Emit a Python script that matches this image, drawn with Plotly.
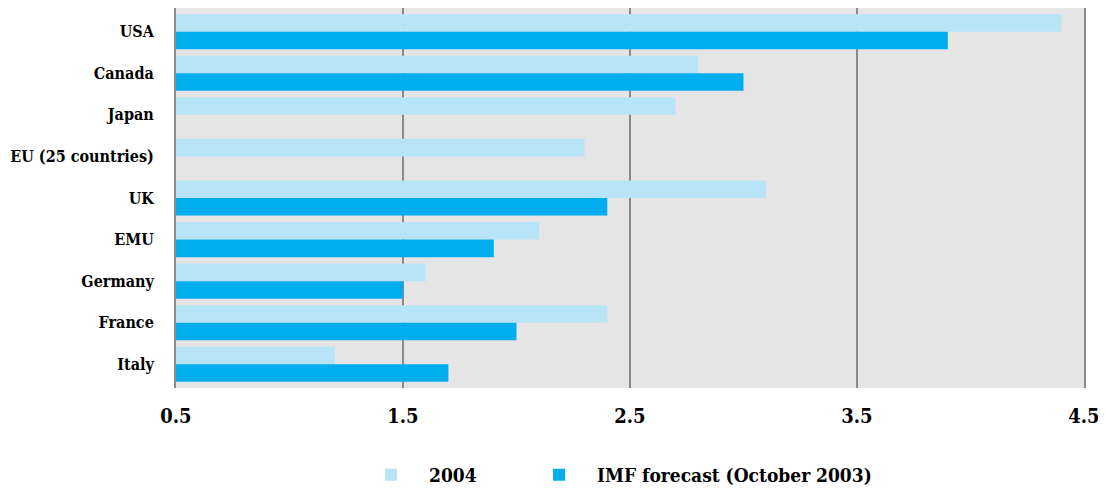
import plotly.graph_objects as go

categories = ["USA", "Canada", "Japan", "EU (25 countries)", "UK", "EMU", "Germany", "France", "Italy"]
values_2004 = [4.4, 2.8, 2.7, 2.3, 3.1, 2.1, 1.6, 2.4, 1.2]
values_imf = [3.9, 3.0, None, None, 2.4, 1.9, 1.5, 2.0, 1.7]
tick_vals = [0.5, 1.5, 2.5, 3.5, 4.5]
tick_text = ["0.5", "1.5", "2.5", "3.5", "4.5"]

FONT = "DejaVu Serif Condensed"
base = 0.5

fig = go.Figure()
fig.add_trace(go.Bar(
    y=categories, x=[None if v is None else v - base for v in values_2004], base=base,
    orientation="h", name="2004", marker=dict(color="#b8e4f8", line=dict(width=0)),
    legend="legend",
))
fig.add_trace(go.Bar(
    y=categories, x=[None if v is None else v - base for v in values_imf], base=base,
    orientation="h", name="IMF forecast (October 2003)", marker=dict(color="#00aeef", line=dict(width=0)),
    legend="legend2",
))

legend_font = dict(family=FONT, size=19, color="black", weight="bold")
fig.update_layout(
    width=1106, height=489,
    margin=dict(l=168, r=30, t=0, b=109),
    paper_bgcolor="white", plot_bgcolor="#e5e5e5",
    barmode="group", bargap=0.155, bargroupgap=0.0,
    font=dict(family=FONT, color="black", size=16),
    showlegend=True,
    legend=dict(orientation="h", x=0.195, xanchor="left", y=-0.2285, yanchor="middle",
                font=legend_font, bgcolor="rgba(0,0,0,0)", itemwidth=66),
    legend2=dict(orientation="h", x=0.380, xanchor="left", y=-0.2285, yanchor="middle",
                 font=legend_font, bgcolor="rgba(0,0,0,0)", itemwidth=66),
    xaxis=dict(range=[0.5, 4.5], tickvals=tick_vals, ticktext=tick_text, automargin=False,
               showgrid=True, gridcolor="#8a8a8a", gridwidth=2, zeroline=False,
               tickfont=dict(family=FONT, size=20, color="black", weight="bold"),
               ticks="", ticklabelstandoff=14, showline=False, fixedrange=True),
    yaxis=dict(range=[8.57, -0.57], showline=True, mirror=True, linecolor="#8a8a8a", linewidth=2,
               showgrid=False, ticks="", ticklabelstandoff=17, automargin=False,
               tickfont=dict(family=FONT, size=16, color="black", weight="bold")),
)

fig.write_html("out.html")
